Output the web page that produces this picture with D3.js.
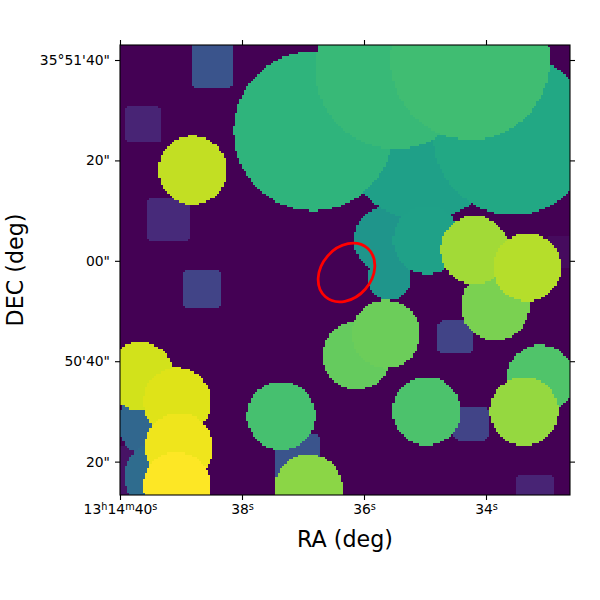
<!DOCTYPE html>
<html><head><meta charset="utf-8">
<script src="https://cdn.jsdelivr.net/npm/d3@7"></script>
<style>html,body{margin:0;padding:0;background:#fff}svg{display:block}text{font-family:"DejaVu Sans";fill:#000}</style>
</head><body><div id="chart"></div>
<script>
// Right ascension in seconds past 13h14m, declination in arcsec past 35d50m, radius in arcsec
const circleRa  = [35.59,35.607,34.967,35.033,33.557,36.836,35.492,34.262,37.361,34.975,33.107,36.123,35.639,33.852,36.913,33.377,34.189,33.328,38.811,39.672,39.066,39.033,39.07,39.475,39.377];
const circleDec = [56.57,64.14,64.14,84.06,85.06,85.86,98.21,100,29.18,30.08,36.45,41.14,45.42,51,14.74,30.08,62.15,58.76,78.09,37.05,31.97,22.91,15.14,27.69,17.13];
const circleRad = [4.38,6.77,6.77,15.9,15.9,15.84,15.9,15.84,6.8,6.8,6.8,6.77,6.77,6.8,6.77,6.8,6.8,6.77,6.81,6.77,6.77,6.8,6.77,6.77,6.77];
const circleLevel = [.52,.52,.57,.565,.6,.65,.675,.695,.705,.715,.725,.765,.775,.8,.825,.84,.86,.89,.91,.93,.95,.975,1,.33,.35];
const boxRa   = [38.487,39.628,39.2,38.655,34.503,34.246,33.202,32.705,39.836,37.082];
const boxDec  = [99.2,87.21,68.41,54.38,44.82,27.63,13.55,61.75,18.33,20.72];
const boxHalfW = [3.84,3.59,4.28,3.63,3.39,3.39,3.84,3.6,3,4.4];
const boxHalfH = [4.74,3.63,4.28,3.8,3.39,3.39,3.84,3.2,5,4.6];
const boxLevel = [.26,.1,.12,.2,.2,.2,.1,.03,.05,.26];
const raTicks = [40,38,36,34];
const decTicks = [100,80,60,40,20];
const decLabels = ["35°51'40\"","20\"","00\"","50'40\"","20\""];
const raDomain = [40,32.623];
const decDomain = [102.99,13.35];
const ellipseCenter = [36.287,57.67];
const ellipseAxes = [6.4,5.0];
const ellipseAngle = 49;
const gridSize = 200;

const L=120,R=570,T=45,B=495;
const x=d3.scaleLinear().domain(raDomain).range([L,R]);
const y=d3.scaleLinear().domain(decDomain).range([T,B]);
const color=d3.interpolateViridis;
const svg=d3.select("#chart").append("svg").attr("width",600).attr("height",600);

// layers painted in ascending level, later ones on top
const layers=[];
circleRa.forEach((r,i)=>layers.push({level:circleLevel[i],hit:(px,py)=>Math.hypot(px-x(r),py-y(circleDec[i]))<=Math.abs(y(circleRad[i])-y(0))}));
boxRa.forEach((r,i)=>{
  const hw=Math.abs(y(boxHalfW[i])-y(0)),hh=Math.abs(y(boxHalfH[i])-y(0)),c=3;
  layers.push({level:boxLevel[i],hit:(px,py)=>{
    const dx=Math.abs(px-x(r)),dy=Math.abs(py-y(boxDec[i]));
    if(dx>hw||dy>hh)return false;
    return (dx-(hw-c))+(dy-(hh-c))<=c;
  }});
});
layers.sort((a,b)=>a.level-b.level);

const cell=(R-L)/gridSize;
const img=svg.append("g").attr("shape-rendering","crispEdges");
img.append("rect").attr("x",L).attr("y",T).attr("width",R-L).attr("height",B-T).attr("fill",color(0));
const runs=[];
for(let j=0;j<gridSize;j++){
  const py=T+(j+.5)*cell; let cur=0,start=0;
  for(let k=0;k<=gridSize;k++){
    let lv=-1;
    if(k<gridSize){
      const px=L+(k+.5)*cell; lv=0;
      for(const l of layers) if(l.hit(px,py)) lv=l.level;
    }
    if(lv!==cur){ if(cur>0) runs.push({j,start,end:k,lv:cur}); cur=lv; start=k; }
  }
}
img.selectAll("rect.run").data(runs).join("rect").attr("class","run")
  .attr("x",d=>L+d.start*cell).attr("y",d=>T+d.j*cell)
  .attr("width",d=>(d.end-d.start)*cell).attr("height",cell).attr("fill",d=>color(d.lv));

// ellipse
const pxPerArcsec=Math.abs(y(1)-y(0));
svg.append("ellipse").attr("transform",`translate(${x(ellipseCenter[0])},${y(ellipseCenter[1])}) rotate(${-ellipseAngle})`)
  .attr("rx",ellipseAxes[0]*pxPerArcsec).attr("ry",ellipseAxes[1]*pxPerArcsec)
  .attr("fill","none").attr("stroke","#ff0000").attr("stroke-width",2.78);

// axes
const fs=13.9;
function styleAxis(g){g.select(".domain").remove();g.selectAll("line").attr("stroke","#000").attr("stroke-width",1.1);g.selectAll("text").attr("font-size",fs).attr("font-family","DejaVu Sans").attr("fill","#000");}
const ax=(fn,s,t,o)=>fn(s).tickValues(t).tickSize(5).tickPadding(o);
const gb=svg.append("g").attr("transform",`translate(0,${B})`).call(ax(d3.axisBottom,x,raTicks,4).tickFormat(()=>"")).call(styleAxis);
svg.append("g").attr("transform",`translate(0,${T})`).call(ax(d3.axisTop,x,raTicks,4).tickFormat(()=>"")).call(styleAxis);
svg.append("g").attr("transform",`translate(${L},0)`).call(ax(d3.axisLeft,y,decTicks,5).tickFormat((d,i)=>decLabels[i])).call(styleAxis);
svg.append("g").attr("transform",`translate(${R},0)`).call(ax(d3.axisRight,y,decTicks,5).tickFormat(()=>"")).call(styleAxis);

gb.selectAll(".tick text").each(function(d,i){
  const t=d3.select(this).text(null);
  const parts=i===0?[["13",0],["h",1],["14",0],["m",1],[String(d),0],["s",1]]:[[String(d),0],["s",1]];
  parts.forEach(([s,sup])=>{
    const ts=t.append("tspan").text(s);
    if(sup) ts.attr("font-size",fs*.7).attr("baseline-shift","40%");
  });
});

svg.append("rect").attr("x",L).attr("y",T).attr("width",R-L).attr("height",B-T)
  .attr("fill","none").attr("stroke","#000").attr("stroke-width",1.1);

svg.append("text").attr("x",345).attr("y",547).attr("text-anchor","middle").attr("font-size",22.2).text("RA (deg)");
svg.append("text").attr("transform","translate(23,270) rotate(-90)").attr("text-anchor","middle").attr("font-size",22.2).text("DEC (deg)");
</script></body></html>
